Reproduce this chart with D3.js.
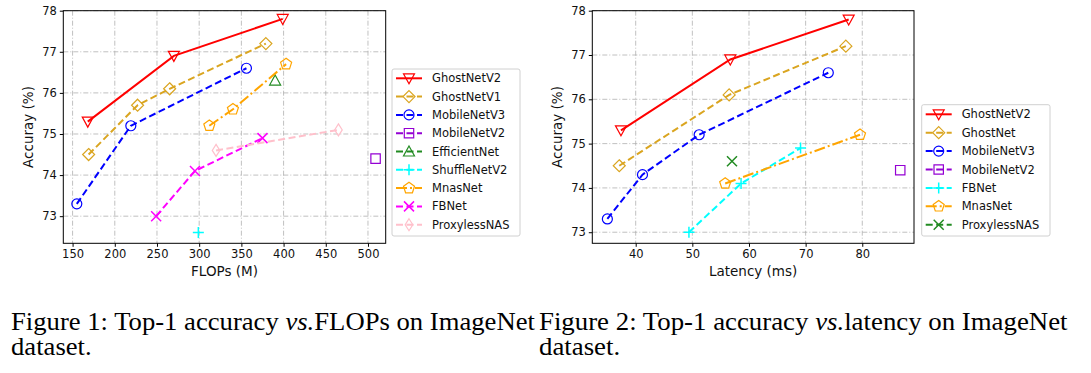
<!DOCTYPE html>
<html>
<head>
<meta charset="utf-8">
<script src="https://cdn.jsdelivr.net/npm/d3@7"></script>
<style>
  body { margin: 0; background: #fff; }
  svg text { font-family: "DejaVu Sans", sans-serif; }
</style>
</head>
<body>
<div id="chart"></div>
<script>
// ---- data ----
const flopsNames = ["GhostNetV2", "GhostNetV1", "MobileNetV3", "MobileNetV2", "EfficientNet",
                    "ShuffleNetV2", "MnasNet", "FBNet", "ProxylessNAS"];
const flopsGhostNetV2 = [[168, 75.3], [270, 76.9], [399, 77.8]];
const flopsGhostNetV1 = [[169, 74.5], [227, 75.7], [265, 76.1], [379, 77.2]];
const flopsMobileNetV3 = [[155, 73.3], [219, 75.2], [356, 76.6]];
const flopsMobileNetV2 = [[509, 74.4]];
const flopsEfficientNet = [[390, 76.3]];
const flopsShuffleNetV2 = [[299, 72.6]];
const flopsMnasNet = [[312, 75.2], [340, 75.6], [403, 76.7]];
const flopsFBNet = [[249, 73.0], [295, 74.1], [375, 74.9]];
const flopsProxylessNAS = [[320, 74.6], [465, 75.1]];

const latNames = ["GhostNetV2", "GhostNet", "MobileNetV3", "MobileNetV2", "FBNet", "MnasNet", "ProxylessNAS"];
const latGhostNetV2 = [[37.4, 75.3], [56.7, 76.9], [77.6, 77.8]];
const latGhostNet = [[37.1, 74.5], [56.5, 76.1], [77.1, 77.2]];
const latMobileNetV3 = [[35.0, 73.3], [41.2, 74.3], [51.2, 75.2], [74.0, 76.6]];
const latMobileNetV2 = [[86.7, 74.4]];
const latFBNet = [[49.4, 73.0], [58.6, 74.1], [69.1, 74.9]];
const latMnasNet = [[55.8, 74.1], [79.6, 75.2]];
const latProxylessNAS = [[57.0, 74.6]];

const flopsTicks = [150, 200, 250, 300, 350, 400, 450, 500];
const latTicks = [40, 50, 60, 70, 80];
const accTicks = [73, 74, 75, 76, 77, 78];

const flopsData = [flopsGhostNetV2, flopsGhostNetV1, flopsMobileNetV3, flopsMobileNetV2, flopsEfficientNet,
                   flopsShuffleNetV2, flopsMnasNet, flopsFBNet, flopsProxylessNAS];
const latData = [latGhostNetV2, latGhostNet, latMobileNetV3, latMobileNetV2, latFBNet, latMnasNet, latProxylessNAS];

// ---- styles ----
const DASH = "7,3.5", DASHDOT = "11,3,2,3";
const styleFlops = {
  GhostNetV2:   {color: "#ff0000", dash: null,    marker: "v"},
  GhostNetV1:   {color: "#daa520", dash: DASH,    marker: "D"},
  MobileNetV3:  {color: "#0000ff", dash: DASH,    marker: "o"},
  MobileNetV2:  {color: "#9400d3", dash: DASH,    marker: "s"},
  EfficientNet: {color: "#228b22", dash: DASH,    marker: "^"},
  ShuffleNetV2: {color: "#00ffff", dash: DASH,    marker: "+"},
  MnasNet:      {color: "#ffa500", dash: DASHDOT, marker: "p"},
  FBNet:        {color: "#ff00ff", dash: DASH,    marker: "x"},
  ProxylessNAS: {color: "#ffc0cb", dash: DASH,    marker: "d"}
};
const styleLat = {
  GhostNetV2:   {color: "#ff0000", dash: null,    marker: "v"},
  GhostNet:     {color: "#daa520", dash: DASH,    marker: "D"},
  MobileNetV3:  {color: "#0000ff", dash: DASH,    marker: "o"},
  MobileNetV2:  {color: "#9400d3", dash: DASH,    marker: "s"},
  FBNet:        {color: "#00ffff", dash: DASH,    marker: "+"},
  MnasNet:      {color: "#ffa500", dash: DASHDOT, marker: "p"},
  ProxylessNAS: {color: "#228b22", dash: DASH,    marker: "x"}
};

function markerPath(m) {
  if (m === "v") return "M-5.5,-4.5L5.5,-4.5L0,5.5Z";
  if (m === "^") return "M0,-5.5L5.5,4.5L-5.5,4.5Z";
  if (m === "D") return "M0,-6L6,0L0,6L-6,0Z";
  if (m === "d") return "M0,-6L3.8,0L0,6L-3.8,0Z";
  if (m === "o") return "M5,0A5,5 0 1,1 -5,0A5,5 0 1,1 5,0Z";
  if (m === "s") return "M-4.7,-4.7h9.4v9.4h-9.4Z";
  if (m === "+") return "M-5.5,0H5.5M0,-5.5V5.5";
  if (m === "x") return "M-5,-5L5,5M-5,5L5,-5";
  if (m === "p") {
    let pts = d3.range(5).map(k => {
      let a = (-90 + 72 * k) * Math.PI / 180;
      return [5.8 * Math.cos(a), 5.8 * Math.sin(a)];
    });
    return "M" + pts.map(p => p.join(",")).join("L") + "Z";
  }
}

const svg = d3.select("#chart").append("svg")
  .attr("width", 1091).attr("height", 373);

function panel(opt) {
  let x = d3.scaleLinear().domain(opt.xDomain).range([opt.left, opt.right]);
  let y = d3.scaleLinear().domain(opt.yDomain).range([opt.bottom, opt.top]);
  let g = svg.append("g");

  // grid
  g.selectAll(".gx").data(opt.xTicks).enter().append("line")
    .attr("x1", d => x(d)).attr("x2", d => x(d))
    .attr("y1", opt.top).attr("y2", opt.bottom)
    .attr("stroke", "#b0b0b0").attr("stroke-width", 0.8).attr("stroke-dasharray", "5,2,1,2");
  g.selectAll(".gy").data(accTicks).enter().append("line")
    .attr("x1", opt.left).attr("x2", opt.right)
    .attr("y1", d => y(d)).attr("y2", d => y(d))
    .attr("stroke", "#b0b0b0").attr("stroke-width", 0.8).attr("stroke-dasharray", "5,2,1,2");

  let line = d3.line().x(d => x(d[0])).y(d => y(d[1]));

  opt.names.forEach((name, i) => {
    let st = opt.style[name];
    let pts = opt.data[i];
    if (pts.length > 1) {
      g.append("path").attr("d", line(pts))
        .attr("fill", "none").attr("stroke", st.color).attr("stroke-width", 2)
        .attr("stroke-dasharray", st.dash);
    }
    g.selectAll(null).data(pts).enter().append("path")
      .attr("transform", d => `translate(${x(d[0])},${y(d[1])})`)
      .attr("d", markerPath(st.marker))
      .attr("fill", "none").attr("stroke", st.color)
      .attr("stroke-width", (st.marker === "+" || st.marker === "x") ? 1.5 : 1.2);
  });

  // frame
  g.append("rect").attr("x", opt.left).attr("y", opt.top)
    .attr("width", opt.right - opt.left).attr("height", opt.bottom - opt.top)
    .attr("fill", "none").attr("stroke", "#000").attr("stroke-width", 1);

  // axes
  let xAxis = d3.axisBottom(x).tickValues(opt.xTicks).tickFormat(d3.format("d")).tickSize(3.5).tickPadding(3);
  let yAxis = d3.axisLeft(y).tickValues(accTicks).tickFormat(d3.format("d")).tickSize(3.5).tickPadding(3);
  let gx = g.append("g").attr("transform", `translate(0,${opt.bottom})`).call(xAxis);
  let gy = g.append("g").attr("transform", `translate(${opt.left},0)`).call(yAxis);
  [gx, gy].forEach(a => {
    a.select(".domain").remove();
    a.selectAll("text").style("font-family", "DejaVu Sans").style("font-size", "11.5px").attr("fill", "#111");
  });

  g.append("text").attr("x", (opt.left + opt.right) / 2).attr("y", 275.5)
    .attr("text-anchor", "middle").style("font-size", "13.5px").attr("fill", "#111")
    .text(opt.xLabel);
  g.append("text")
    .attr("transform", `translate(${opt.yLabelX},${(opt.top + opt.bottom) / 2}) rotate(-90)`)
    .attr("text-anchor", "middle").attr("dy", "0.35em")
    .style("font-size", "13.5px").attr("fill", "#111")
    .text("Accuray (%)");

  // legend
  let L = opt.legend;
  g.append("rect").attr("x", L.x).attr("y", L.y).attr("width", L.w).attr("height", L.h)
    .attr("rx", 2).attr("fill", "#fff").attr("fill-opacity", 0.8)
    .attr("stroke", "#d0d0d0").attr("stroke-width", 1);
  opt.names.forEach((name, i) => {
    let st = opt.style[name];
    let cy = L.first + i * L.step;
    g.append("line").attr("x1", L.x + 4).attr("x2", L.x + 30).attr("y1", cy).attr("y2", cy)
      .attr("stroke", st.color).attr("stroke-width", 2).attr("stroke-dasharray", st.dash);
    g.append("path").attr("transform", `translate(${L.x + 17},${cy})`)
      .attr("d", markerPath(st.marker)).attr("fill", "none").attr("stroke", st.color)
      .attr("stroke-width", (st.marker === "+" || st.marker === "x") ? 1.5 : 1.2);
    g.append("text").attr("x", L.x + 40).attr("y", cy).attr("dy", "0.35em")
      .style("font-size", "11.5px").attr("fill", "#111").text(name);
  });
}

panel({
  names: flopsNames, data: flopsData, style: styleFlops,
  xDomain: [139, 521], yDomain: [72.34, 78.0], xTicks: flopsTicks,
  left: 63.3, right: 385.7, top: 10.7, bottom: 243.3,
  xLabel: "FLOPs (M)", yLabelX: 28.5,
  legend: {x: 392, y: 69, w: 128, h: 167, first: 78.3, step: 18.3}
});
panel({
  names: latNames, data: latData, style: styleLat,
  xDomain: [32.34, 89.13], yDomain: [72.75, 78.0], xTicks: latTicks,
  left: 592.3, right: 914, top: 10.7, bottom: 243.3,
  xLabel: "Latency (ms)", yLabelX: 557.5,
  legend: {x: 921.7, y: 104.7, w: 128.3, h: 131.3, first: 114.3, step: 18.4}
});

// captions: Times-like serif, squeezed horizontally to the measured width
function caption(x, before, after, len) {
  let g = svg.append("g");
  let t = g.append("text").attr("x", 0).attr("y", 330)
    .style("font-family", "'Liberation Serif', serif").style("font-size", "25.5px").attr("fill", "#000");
  t.append("tspan").text(before);
  t.append("tspan").style("font-style", "italic").text("vs.");
  t.append("tspan").text(after);
  let w = t.node().getComputedTextLength();
  let k = len / w;
  t.attr("transform", `scale(${k},1)`);
  g.append("text").attr("x", 0).attr("y", 355)
    .attr("transform", `scale(${k},1)`)
    .style("font-family", "'Liberation Serif', serif").style("font-size", "25.5px").attr("fill", "#000")
    .text("dataset.");
  g.attr("transform", `translate(${x},0)`);
}
caption(11, "Figure 1: Top-1 accuracy ", "FLOPs on ImageNet", 524);
caption(539, "Figure 2: Top-1 accuracy ", "latency on ImageNet", 529);
</script>
</body>
</html>
